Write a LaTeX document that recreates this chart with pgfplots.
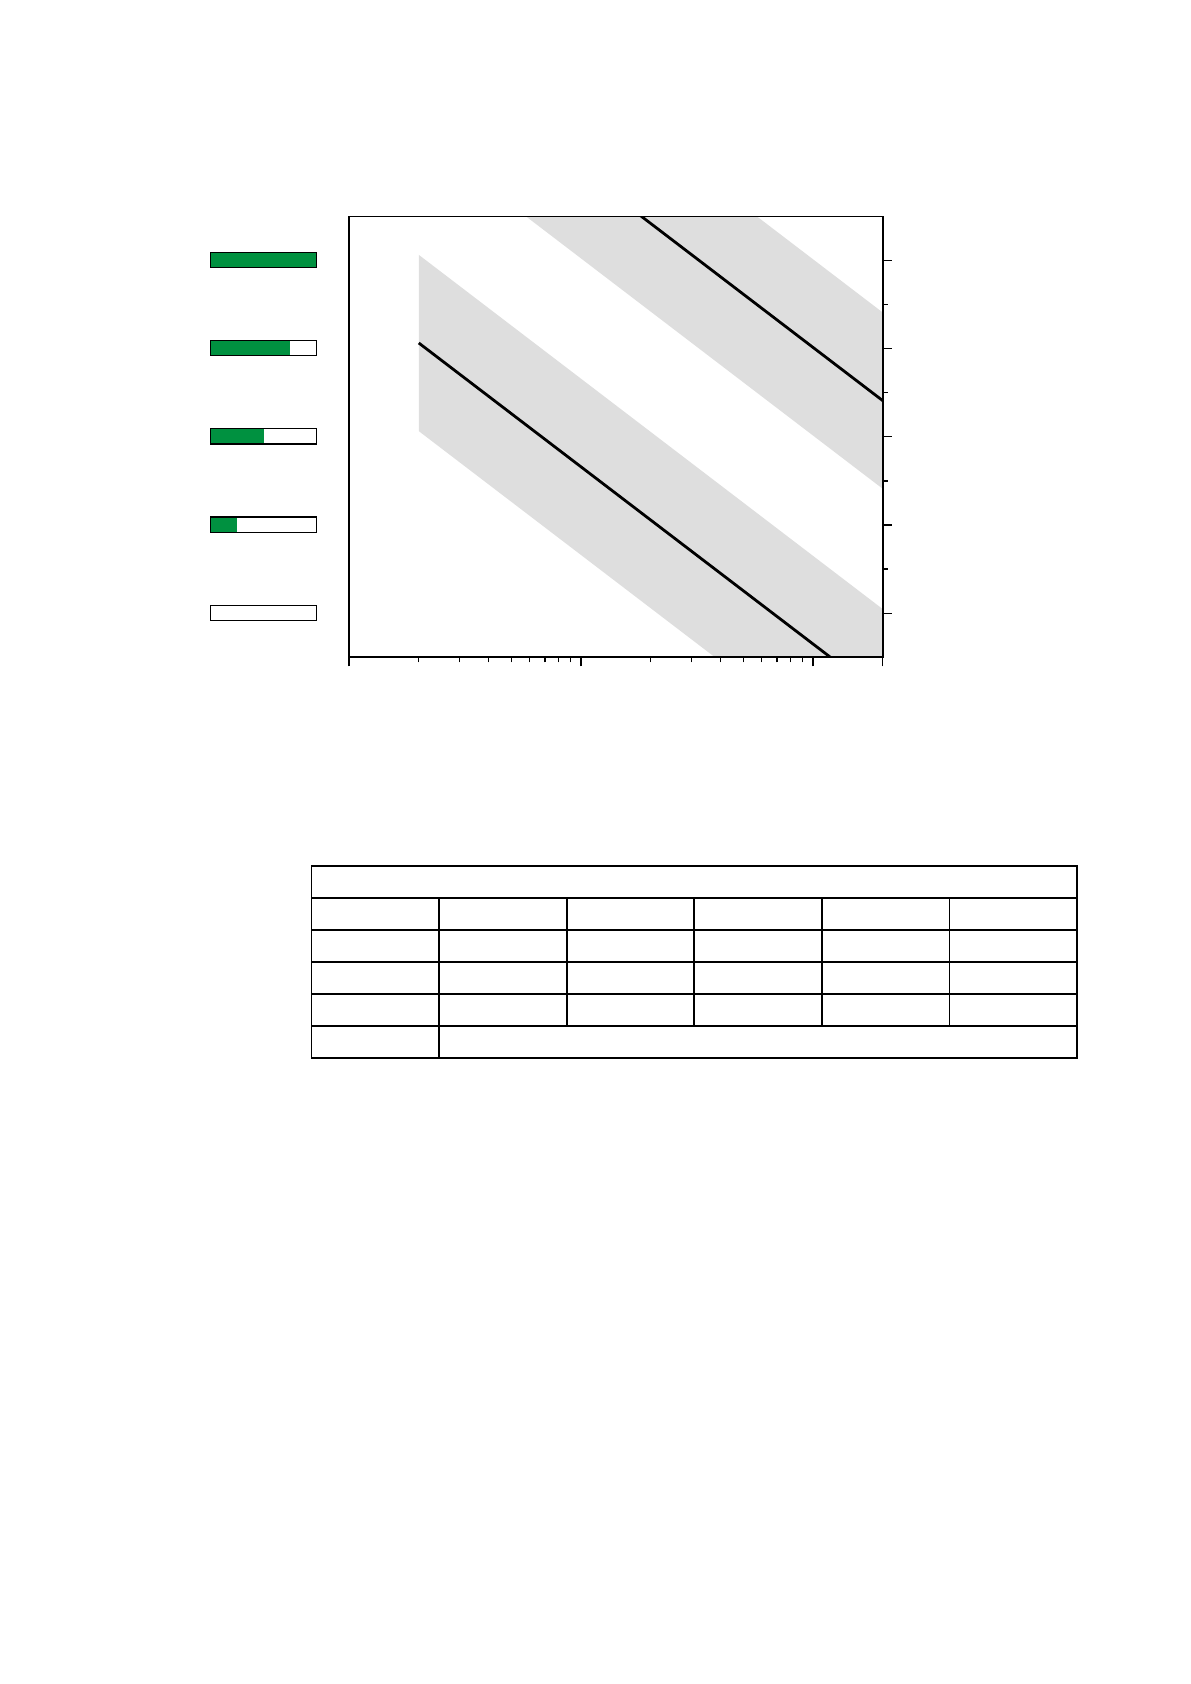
\documentclass[border=0pt]{standalone}
\usepackage{pgfplots}
\pgfplotsset{compat=1.18}
\definecolor{batgreen}{RGB}{0,145,64}
\definecolor{bandgray}{RGB}{222,222,222}
\begin{document}
\begin{tikzpicture}[x=0.01765cm,y=0.01765cm]
\useasboundingbox (0,0) rectangle (1190,1684);
\begin{axis}[
  at={(6.16cm,18.127cm)}, anchor=south west,
  scale only axis, width=9.425cm, height=7.78cm,
  xmode=log, xmin=1, xmax=200, ymin=0, ymax=10,
  xtick pos=left, ytick pos=right, tick align=outside,
  ytick={1,3,5,7,9}, minor ytick={2,4,6,8},
  extra x ticks={200}, extra x tick labels={},
  xticklabels={}, yticklabels={},
  major tick length=0.16cm, minor tick length=0.09cm,
  every tick/.style={black, line width=0.6pt},
  axis line style={line width=0.9pt},
  axis on top,
]
% bands (line +/- 2)
\addplot[fill=bandgray, draw=none] coordinates {(2,9.13) (200,1.09) (200,-2.91) (2,5.13)};
\addplot[fill=bandgray, draw=none] coordinates {(2,15.86) (200,7.82) (200,3.82) (2,11.86)};
% lines
\addplot[black, line width=1.4pt] coordinates {(2,7.13) (118.8,0)};
\addplot[black, line width=1.4pt] coordinates {(2,13.86) (200,5.82)};
\end{axis}
% battery level icons beside the y ticks
\foreach \yc/\f in {1424/1, 1335.7/0.75, 1247.5/0.5, 1159.3/0.25, 1071.1/0} {
  \fill[batgreen] (210.5,\yc-7.6) rectangle ({210.5+106*\f},\yc+7.6);
  \draw[line width=0.6pt] (210.5,\yc-7.6) rectangle (316.5,\yc+7.6);
}
% empty table
\begin{scope}[line width=0.9pt]
\draw (311.5,626) rectangle (1077,818);
\foreach \yy in {786,754,722,690,658} \draw (311.5,\yy) -- (1077,\yy);
\draw (439,626) -- (439,786);
\foreach \xx in {566.7,694.3,822,949.5} \draw (\xx,658) -- (\xx,786);
\end{scope}
\end{tikzpicture}
\end{document}
